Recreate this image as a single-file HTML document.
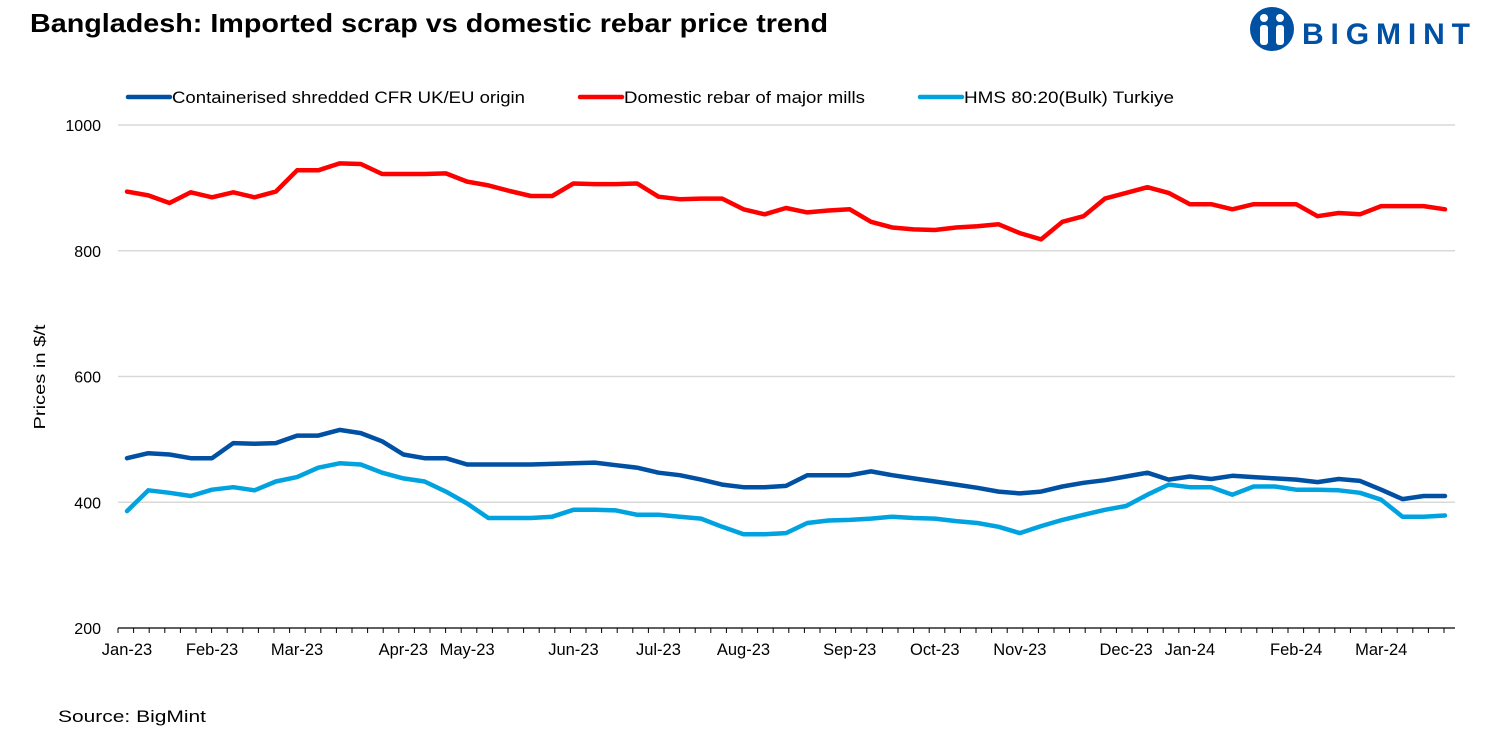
<!DOCTYPE html>
<html><head><meta charset="utf-8"><style>
body{margin:0;background:#fff;font-family:"Liberation Sans",sans-serif;}
#wrap{position:relative;width:1500px;height:750px;overflow:hidden;}
</style></head><body>
<div id="wrap">
<svg id="chart" width="1500" height="750"></svg>
</div>
<script>
const categories=[];for(let i=0;i<63;i++)categories.push("w"+i);
const monthLabels=["Jan-23","Feb-23","Mar-23","Apr-23","May-23","Jun-23","Jul-23","Aug-23","Sep-23","Oct-23","Nov-23","Dec-23","Jan-24","Feb-24","Mar-24"];
const monthIndex=[0,4,8,13,16,21,25,29,34,38,42,47,50,55,59];
const yTicks=[200,400,600,800,1000];
const shredded=[470,478,476,470,470,494,493,494,506,506,515,510,497,476,470,470,460,460,460,460,461,462,463,459,455,447,443,436,428,424,424,426,443,443,443,449,443,438,433,428,423,417,414,417,425,431,435,441,447,436,441,437,442,440,438,436,432,437,434,420,405,410,410];
const rebar=[894,888,876,893,885,893,885,894,928,928,939,938,922,922,922,923,910,904,895,887,887,907,906,906,907,886,882,883,883,866,858,868,861,864,866,846,837,834,833,837,839,842,828,818,846,855,883,892,901,892,874,874,866,874,874,874,855,860,858,871,871,871,866];
const hms=[386,419,415,410,420,424,419,433,440,455,462,460,447,438,433,417,398,375,375,375,377,388,388,387,380,380,377,374,361,349,349,351,367,371,372,374,377,375,374,370,367,361,351,362,372,380,388,394,412,428,424,424,412,425,425,420,420,419,415,404,377,377,379];
const series=[{name:"Containerised shredded CFR UK/EU origin",vals:shredded,color:"#0050a4",key:"shredded"},
{name:"Domestic rebar of major mills",vals:rebar,color:"#ff0000",key:"rebar"},
{name:"HMS 80:20(Bulk) Turkiye",vals:hms,color:"#00a3e0",key:"hms"}];
const NS="http://www.w3.org/2000/svg";
const svg=document.getElementById('chart');
const X0=127,X1=1445,Y0=628,Y1=125,VMIN=200,VMAX=1000;
const xs=i=>X0+i*(X1-X0)/(categories.length-1);
const ys=v=>Y0-(v-VMIN)*(Y0-Y1)/(VMAX-VMIN);
function mk(tag,attrs,parent){const e=document.createElementNS(NS,tag);for(const k in attrs)e.setAttribute(k,attrs[k]);(parent||svg).appendChild(e);return e;}
let t=mk('text',{x:30,y:32,'font-size':26,'font-weight':'bold',fill:'#000',textLength:798,lengthAdjust:'spacingAndGlyphs'});t.textContent="Bangladesh: Imported scrap vs domestic rebar price trend";


let lg=mk('g',{});


mk('circle',{cx:1272,cy:29,r:22,fill:'#0050a4'},lg);
mk('circle',{cx:1264,cy:18,r:4,fill:'#fff'},lg);mk('circle',{cx:1280,cy:18,r:4,fill:'#fff'},lg);
mk('rect',{x:1260,y:25,width:8,height:20,rx:3,fill:'#fff'},lg);mk('rect',{x:1276,y:25,width:8,height:20,rx:3,fill:'#fff'},lg);
let lt=mk('text',{x:1302,y:44,'font-size':30,'font-weight':'bold',fill:'#0050a4',textLength:168,lengthAdjust:'spacing'},lg);lt.textContent="BIGMINT";
yTicks.forEach(v=>{
 if(v>VMIN){let g=mk('line',{x1:118,x2:1455,y1:ys(v),y2:ys(v),stroke:'#d9d9d9','stroke-width':1.5});
 
 }
 let l=mk('text',{x:101,y:ys(v)+6,'font-size':16,'text-anchor':'end',fill:'#000'});l.textContent=v;
 
 
});
let ax=mk('line',{x1:118,x2:1455,y1:Y0,y2:Y0,stroke:'#000','stroke-width':1.2});


for(let x=118;x<=1456;x+=15.6){mk('line',{x1:x,x2:x,y1:Y0,y2:Y0+5,stroke:'#000','stroke-width':1});}
monthIndex.forEach((ix,k)=>{let l=mk('text',{x:xs(ix),y:655,'font-size':16.5,'text-anchor':'middle',fill:'#000'});l.textContent=monthLabels[k];
 
 });
let yt=mk('text',{x:0,y:0,'font-size':16,'text-anchor':'middle',fill:'#000',transform:'translate(45,377) rotate(-90)',textLength:105,lengthAdjust:'spacingAndGlyphs'});yt.textContent="Prices in $/t";


series.forEach(s=>{
 let d=s.vals.map((v,i)=>(i?'L':'M')+xs(i).toFixed(1)+','+ys(v).toFixed(1)).join('');
 let p=mk('path',{d:d,fill:'none',stroke:s.color,'stroke-width':4.5,'stroke-linejoin':'round','stroke-linecap':'round'});
 
 
});
const legX=[128,580,920];
const legW=[353,241,210];
series.forEach((s,k)=>{
 let g=mk('g',{});
 
 
 mk('line',{x1:legX[k],x2:legX[k]+42,y1:97,y2:97,stroke:s.color,'stroke-width':4.5,'stroke-linecap':'round'},g);
 let tx=mk('text',{x:legX[k]+44,y:103,'font-size':16.5,fill:'#000',textLength:legW[k],lengthAdjust:'spacingAndGlyphs'},g);tx.textContent=s.name;
});
let src=mk('text',{x:58,y:722,'font-size':17,fill:'#000',textLength:148,lengthAdjust:'spacingAndGlyphs'});src.textContent="Source: BigMint";


</script>
</body></html>
